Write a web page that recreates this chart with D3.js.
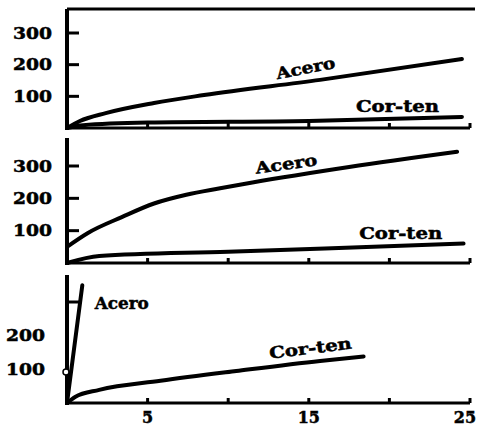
<!DOCTYPE html>
<html>
<head>
<meta charset="utf-8">
<style>
  body { margin: 0; background: #fff; }
  svg text { font-family: "DejaVu Serif", "Liberation Serif", serif; font-weight: bold; fill: #000; stroke: #000; stroke-width: 0.5px; }
</style>
</head>
<body>
<div id="container"></div>
<script src="https://cdn.jsdelivr.net/npm/d3@7"></script>
<script>
// years of exposure (x) and corrosion loss (y)
const xTicks = [5, 10, 15, 20, 25];
const xTickLabels = [5, 15, 25];
const yTicks = [100, 200, 300];

// panel 1
const acero1X = [0, 0.8, 2.4, 5.4, 8.5, 15.7, 24.5];
const acero1Y = [0, 22, 47, 79, 104, 152, 218];
const corten1X = [0, 1, 5, 15, 24.5];
const corten1Y = [0, 9, 17, 22, 35];

// panel 2
const acero2X = [0, 1.3, 3.4, 5.4, 7.4, 9.5, 11.5, 17.5, 24.2];
const acero2Y = [50, 93, 142, 184, 211, 231, 249, 297, 344];
const corten2X = [0, 2, 10, 16, 24.6];
const corten2Y = [0, 22, 35, 45, 60];

// panel 3
const acero3X = [0, 0.95];
const acero3Y = [0, 350];
const corten3X = [0, 0.5, 2, 5.8, 10.5, 15.7, 18.4];
const corten3Y = [0, 18, 39, 66, 95, 125, 138];

const svg = d3.select("#container")
    .append("svg")
    .attr("width", 480)
    .attr("height", 425);

const x = d3.scaleLinear().domain([0, 25]).range([67, 470]);

const panels = [
    { y: d3.scaleLinear().domain([0, 300]).range([128, 33]), top: 9, yTickMarks: yTicks, yLabels: yTicks, labelX: 52,
      series: [[acero1X, acero1Y], [corten1X, corten1Y]],
      notes: [["Acero", 14.8, 189, -11, 60], ["Cor-ten", 20.5, 69, 0, 83]] },
    { y: d3.scaleLinear().domain([0, 300]).range([263, 166]), top: 138, yTickMarks: yTicks, yLabels: yTicks, labelX: 52,
      series: [[acero2X, acero2Y], [corten2X, corten2Y]],
      notes: [["Acero", 13.6, 306, -8, 62], ["Cor-ten", 20.7, 90, 0, 83]] },
    { y: d3.scaleLinear().domain([0, 300]).range([403, 302]), top: 275, yTickMarks: [300], yLabels: [100, 200], labelX: 45,
      series: [[acero3X, acero3Y], [corten3X, corten3Y]],
      notes: [["Acero", 3.4, 297, 0, 54], ["Cor-ten", 15.1, 163, -7, 83]] }
];

panels.forEach((p, k) => {
    const g = svg.append("g");
    const y0 = p.y(0);

    // left axis
    g.append("line")
        .attr("x1", x(0)).attr("x2", x(0))
        .attr("y1", p.top).attr("y2", y0 + 2)
        .attr("stroke", "black").attr("stroke-width", 4);
    // bottom axis
    g.append("line")
        .attr("x1", x(0)).attr("x2", x(25))
        .attr("y1", y0).attr("y2", y0)
        .attr("stroke", "black").attr("stroke-width", 3);
    if (k == 0) {
        // frame on top of first panel
        g.append("line")
            .attr("x1", x(0)).attr("x2", 475)
            .attr("y1", p.top).attr("y2", p.top)
            .attr("stroke", "black").attr("stroke-width", 3);
    }

    // x ticks, little bumps
    g.selectAll(".xt")
        .data(xTicks)
        .join("line")
        .attr("x1", d => x(d)).attr("x2", d => x(d))
        .attr("y1", y0).attr("y2", y0 - 5)
        .attr("stroke", "black").attr("stroke-width", 3);

    // y ticks
    g.selectAll(".yt")
        .data(p.yTickMarks)
        .join("line")
        .attr("x1", x(0)).attr("x2", x(0) + 12)
        .attr("y1", d => p.y(d)).attr("y2", d => p.y(d))
        .attr("stroke", "black").attr("stroke-width", 3);

    g.selectAll(".yl")
        .data(p.yLabels)
        .join("text")
        .attr("x", p.labelX)
        .attr("y", d => p.y(d))
        .attr("dominant-baseline", "central")
        .attr("text-anchor", "end")
        .attr("font-size", "16px")
        .attr("textLength", 39)
        .attr("lengthAdjust", "spacingAndGlyphs")
        .text(d => d);

    // data lines
    p.series.forEach(([xs, ys]) => {
        const pts = xs.map((d, i) => [d, ys[i]]);
        g.append("path")
            .datum(pts)
            .attr("fill", "none")
            .attr("stroke", "black")
            .attr("stroke-width", 4)
            .attr("stroke-linecap", "round")
            .attr("d", d3.line()
                .x(d => x(d[0]))
                .y(d => p.y(d[1]))
                .curve(d3.curveMonotoneX));
    });

    // series names
    p.notes.forEach(([name, nx, ny, rot, w]) => {
        g.append("text")
            .attr("transform", `translate(${x(nx)},${p.y(ny)}) rotate(${rot})`)
            .attr("text-anchor", "middle")
            .attr("dominant-baseline", "central")
            .attr("font-size", "16px")
            .attr("textLength", w)
            .attr("lengthAdjust", "spacingAndGlyphs")
            .text(name);
    });

    if (k == 2) {
        // open marker on the axis
        g.append("circle")
            .attr("cx", x(0) - 1).attr("cy", p.y(92))
            .attr("r", 3)
            .attr("fill", "white").attr("stroke", "black").attr("stroke-width", 1.5);

        g.selectAll(".xl")
            .data(xTickLabels)
            .join("text")
            .attr("x", d => x(d) - (d == 25 ? 5 : 0))
            .attr("y", 417)
            .attr("dominant-baseline", "central")
            .attr("text-anchor", "middle")
            .attr("font-size", "16px")
            .text(d => d);
    }
});
</script>
</body>
</html>
